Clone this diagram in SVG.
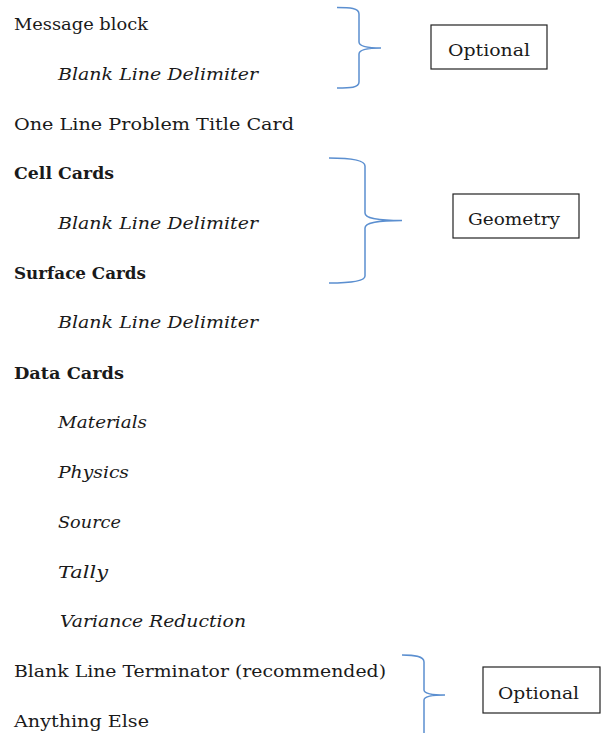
<svg xmlns="http://www.w3.org/2000/svg" width="601" height="733" viewBox="0 0 601 733">
<style>
text{font-family:"DejaVu Serif","Liberation Serif",serif;font-size:17px;fill:#1a1a1a}
.i{font-style:italic}
.b{font-weight:bold}
.box{fill:#fff;stroke:#222;stroke-width:1.2}
.brace{fill:none;stroke:#5b8fd0;stroke-width:1.5}
.lbl{text-anchor:middle}
</style>
<rect width="601" height="733" fill="#fff"/>
<g id="items">
<text x="14" y="30" textLength="134" lengthAdjust="spacingAndGlyphs">Message block</text>
<text class="i" x="58" y="80" textLength="200" lengthAdjust="spacingAndGlyphs">Blank Line Delimiter</text>
<text x="14" y="130" textLength="280" lengthAdjust="spacingAndGlyphs">One Line Problem Title Card</text>
<text class="b" x="14" y="179" textLength="100" lengthAdjust="spacingAndGlyphs">Cell Cards</text>
<text class="i" x="58" y="229" textLength="200" lengthAdjust="spacingAndGlyphs">Blank Line Delimiter</text>
<text class="b" x="14" y="279" textLength="132" lengthAdjust="spacingAndGlyphs">Surface Cards</text>
<text class="i" x="58" y="328" textLength="200" lengthAdjust="spacingAndGlyphs">Blank Line Delimiter</text>
<text class="b" x="14" y="379" textLength="110" lengthAdjust="spacingAndGlyphs">Data Cards</text>
<text class="i" x="58" y="428" textLength="89" lengthAdjust="spacingAndGlyphs">Materials</text>
<text class="i" x="58" y="478" textLength="71" lengthAdjust="spacingAndGlyphs">Physics</text>
<text class="i" x="58" y="528" textLength="63" lengthAdjust="spacingAndGlyphs">Source</text>
<text class="i" x="58" y="578" textLength="50" lengthAdjust="spacingAndGlyphs">Tally</text>
<text class="i" x="60" y="627" textLength="186" lengthAdjust="spacingAndGlyphs">Variance Reduction</text>
<text x="14" y="677" textLength="372" lengthAdjust="spacingAndGlyphs">Blank Line Terminator (recommended)</text>
<text x="14" y="727" textLength="135" lengthAdjust="spacingAndGlyphs">Anything Else</text>
</g>
<g id="connectors">
<path class="brace" d="M337,7.5 C350,7.5 359,8 359,14 L359,42 C359,46 365,48 381,48 C365,48 359,50 359,54 L359,82 C359,88 350,88 337,88"/>
<path class="brace" d="M329,158 C345,158 365,159 365,166 L365,213 C365,218 375,220.5 402,220.5 C375,220.5 365,223 365,228 L365,276 C365,282 345,283 329,283"/>
<path class="brace" d="M402,655 C414,655 424,656 424,662 L424,690 C424,693 430,695 445,695 C430,695 424,697 424,700 L424,733"/>
</g>
<g id="optional1">
<rect class="box" x="431" y="25" width="116" height="44"/>
<text class="lbl" x="489" y="56" textLength="82" lengthAdjust="spacingAndGlyphs">Optional</text>
</g>
<g id="geometry">
<rect class="box" x="453" y="194" width="126" height="44"/>
<text class="lbl" x="514" y="225" textLength="92" lengthAdjust="spacingAndGlyphs">Geometry</text>
</g>
<g id="optional2">
<rect class="box" x="483" y="667" width="117" height="46"/>
<text x="498" y="699" textLength="81" lengthAdjust="spacingAndGlyphs">Optional</text>
</g>
</svg>
